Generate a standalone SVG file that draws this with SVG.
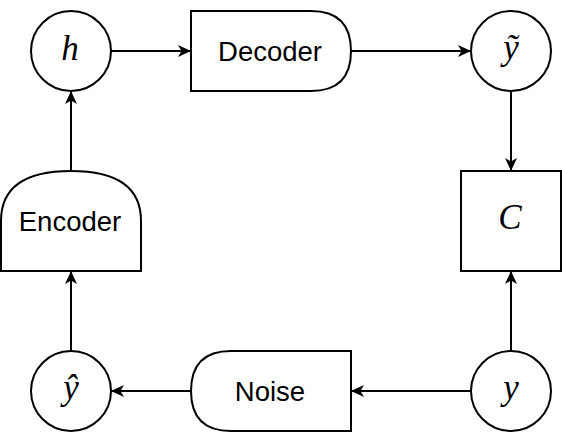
<svg xmlns="http://www.w3.org/2000/svg" width="562" height="442" viewBox="0 0 562 442">
<style>
.s{fill:#fff;stroke:#000;stroke-width:2}
.e{fill:none;stroke:#000;stroke-width:2}
.t{font-family:"Liberation Sans",Arial,sans-serif;font-size:27.5px;fill:#000;text-anchor:middle;dominant-baseline:central}
.m{font-family:"Liberation Serif","DejaVu Serif",serif;font-style:italic;font-size:35px;fill:#000;text-anchor:middle}
</style>
<defs>
<marker id="a" viewBox="0 0 13 12" refX="13" refY="6" markerWidth="13" markerHeight="12" markerUnits="userSpaceOnUse" orient="auto">
<path d="M0,0 L13,6 L0,12 L3.5,6 z" fill="#000"/>
</marker>
</defs>
<g id="connectors">
<line class="e" x1="111" y1="51" x2="191" y2="51" marker-end="url(#a)"/>
<line class="e" x1="351" y1="51" x2="471" y2="51" marker-end="url(#a)"/>
<line class="e" x1="511" y1="91" x2="511" y2="171" marker-end="url(#a)"/>
<line class="e" x1="511" y1="351" x2="511" y2="271" marker-end="url(#a)"/>
<line class="e" x1="471" y1="391" x2="351" y2="391" marker-end="url(#a)"/>
<line class="e" x1="191" y1="391" x2="111" y2="391" marker-end="url(#a)"/>
<line class="e" x1="71" y1="351" x2="71" y2="271" marker-end="url(#a)"/>
<line class="e" x1="71" y1="171" x2="71" y2="91" marker-end="url(#a)"/>
</g>
<g id="h"><circle class="s" cx="71" cy="51" r="40"/><text class="m" x="70" y="60">h</text></g>
<g id="decoder"><path class="s" d="M191,11 L311,11 Q351,11 351,51 Q351,91 311,91 L191,91 Z"/><text class="t" x="270" y="51">Decoder</text></g>
<g id="ytilde"><circle class="s" cx="511" cy="51" r="40"/><text class="m" x="511" y="59">ỹ</text></g>
<g id="C"><rect class="s" x="461" y="171" width="100" height="100"/><text class="m" x="510" y="229">C</text></g>
<g id="y"><circle class="s" cx="511" cy="391" r="40"/><text class="m" x="511" y="399">y</text></g>
<g id="noise"><path class="s" d="M351,351 L231,351 Q191,351 191,391 Q191,431 231,431 L351,431 Z"/><text class="t" x="270" y="391">Noise</text></g>
<g id="yhat"><circle class="s" cx="71" cy="391" r="40"/><text class="m" x="71" y="399">ŷ</text></g>
<g id="encoder"><path class="s" d="M1,271 L1,221 Q1,171 71,171 Q141,171 141,221 L141,271 Z"/><text class="t" x="70" y="221">Encoder</text></g>
</svg>
